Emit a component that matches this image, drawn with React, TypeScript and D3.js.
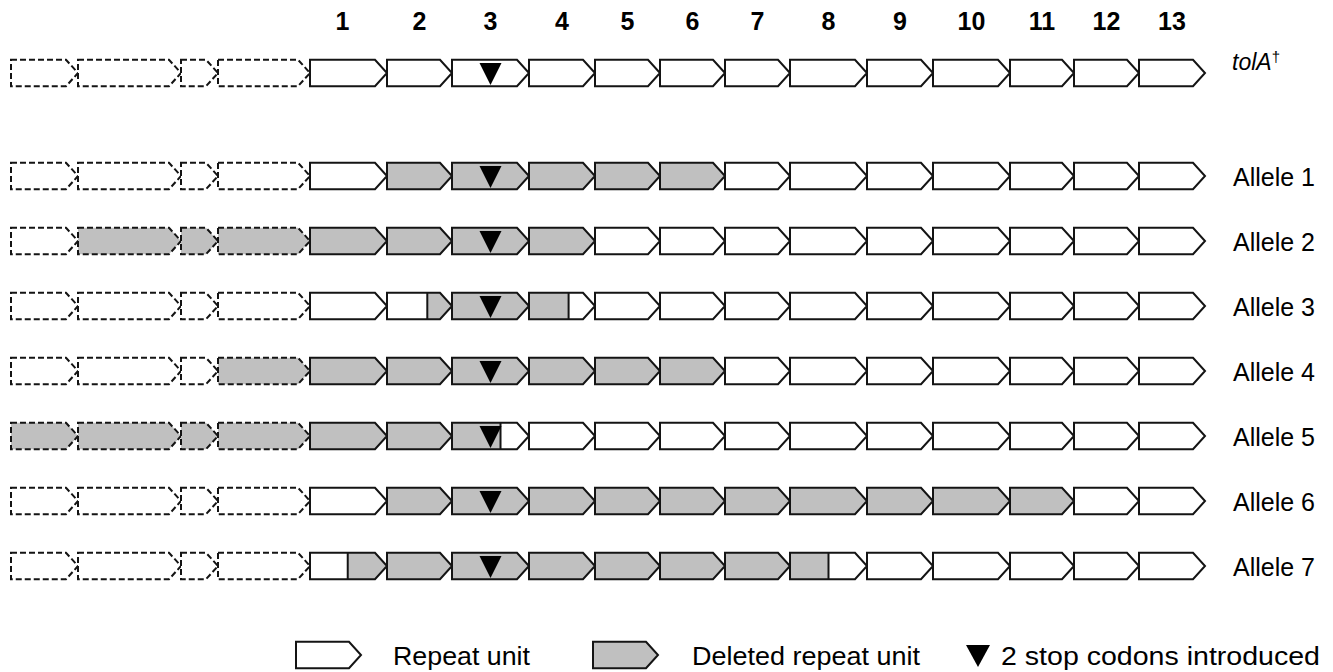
import React, { useEffect, useRef } from "react";
import { select, scaleLinear, scalePoint, sum } from "d3";

// repeat units left to right: 4 dashed upstream units, then numbered repeats 1-13
const unitLabels = ["", "", "", "", "1", "2", "3", "4", "5", "6", "7", "8", "9", "10", "11", "12", "13"];
const unitDashed = [true, true, true, true, false, false, false, false, false, false, false, false, false, false, false, false, false];
const unitLengths = [67, 103, 37, 92, 77, 65, 77, 66, 65, 65, 65, 77, 66, 77, 64, 65, 66];

const rowLabels = ["tolA", "Allele 1", "Allele 2", "Allele 3", "Allele 4", "Allele 5", "Allele 6", "Allele 7"];
// deleted stretch per row, in unit-index coordinates (unit k spans k..k+1)
const deletionStart = [null, 5, 1, 5.62, 3, 0, 5, 4.49];
const deletionEnd = [null, 10, 8, 7.6, 10, 6.63, 15, 11.5];
// stop codons sit in the middle of repeat 3
const stopCodonPos = 6.5;

const legendLabels = ["Repeat unit", "Deleted repeat unit", "2 stop codons introduced"];

const FONT = "'Liberation Sans', Arial, Helvetica, sans-serif";
const GREY = "#c0c0c0";
const INK = "#141414";

function App() {
  const svgRef = useRef();

  useEffect(() => {
    const svg = select(svgRef.current);
    svg.selectAll("*").remove();

    const h = 26.5;
    const tip = 12;

    const total = sum(unitLengths);
    const xScale = scaleLinear().domain([0, total]).range([11, 1205]);
    const starts = unitLengths.map((_, i) => sum(unitLengths.slice(0, i)));
    const ux0 = (k) => xScale(starts[k]);
    const ux1 = (k) => xScale(starts[k] + unitLengths[k]);
    const posX = (p) => {
      const k = Math.min(Math.floor(p), unitLengths.length - 1);
      return xScale(starts[k] + (p - k) * unitLengths[k]);
    };

    const alleleY = scalePoint().domain(rowLabels.slice(1)).range([176, 566]);
    const rowY = (i) => (i === 0 ? 73 : alleleY(rowLabels[i]));

    const halfH = (x, x1) => {
      const xt = x1 - tip;
      return x <= xt ? h / 2 : ((h / 2) * (x1 - x)) / tip;
    };
    // arrow polygon clipped to the strip [a, b]
    const slice = (x1, a, b, c) => {
      const xt = x1 - tip;
      const pts = [[a, c - halfH(a, x1)]];
      if (a < xt && b > xt) pts.push([xt, c - h / 2]);
      pts.push([b, c - halfH(b, x1)]);
      pts.push([b, c + halfH(b, x1)]);
      if (a < xt && b > xt) pts.push([xt, c + h / 2]);
      pts.push([a, c + halfH(a, x1)]);
      return pts.map((p) => p.join(",")).join(" ");
    };
    const triangle = (cx, c, w = 11) =>
      `${cx - w},${c - 10} ${cx + w},${c - 10} ${cx},${c + 12}`;

    // repeat numbers along the top
    svg
      .append("g")
      .selectAll("text")
      .data(unitLabels.map((l, k) => ({ l, k })).filter((d) => d.l))
      .join("text")
      .attr("x", (d) => (d.k === 4 ? (ux0(d.k) + ux1(d.k) - tip) / 2 : (ux0(d.k) + ux1(d.k)) / 2))
      .attr("y", 30)
      .attr("text-anchor", "middle")
      .attr("font-family", FONT)
      .attr("font-weight", "bold")
      .attr("font-size", 25)
      .attr("fill", "#000")
      .text((d) => d.l);

    rowLabels.forEach((label, i) => {
      const c = rowY(i);
      const g = svg.append("g").attr("class", "row");
      const ds = deletionStart[i];
      const de = deletionEnd[i];

      unitLengths.forEach((_, k) => {
        const x0 = ux0(k);
        const x1 = ux1(k);
        g.append("polygon").attr("points", slice(x1, x0, x1, c)).attr("fill", "#fff");
        if (ds !== null && de > k && ds < k + 1) {
          const a = posX(Math.max(ds, k));
          const b = de >= k + 1 ? x1 : posX(de);
          g.append("polygon").attr("points", slice(x1, a, b, c)).attr("fill", GREY);
          [ds, de].forEach((p) => {
            if (p > k && p < k + 1) {
              const sx = posX(p);
              g.append("line")
                .attr("x1", sx)
                .attr("x2", sx)
                .attr("y1", c - halfH(sx, x1))
                .attr("y2", c + halfH(sx, x1))
                .attr("stroke", INK)
                .attr("stroke-width", 2);
            }
          });
        }
        g.append("polygon")
          .attr("points", slice(x1, x0, x1, c))
          .attr("fill", "none")
          .attr("stroke", INK)
          .attr("stroke-width", 2)
          .attr("stroke-linejoin", "miter")
          .attr("stroke-dasharray", unitDashed[k] ? "6,3" : null);
      });

      g.append("polygon").attr("points", triangle(posX(stopCodonPos), c)).attr("fill", "#000");

      if (i === 0) {
        const t = g
          .append("text")
          .attr("x", 1232)
          .attr("y", c - 3)
          .attr("font-family", FONT)
          .attr("font-size", 23)
          .attr("fill", "#000");
        t.append("tspan").attr("font-style", "italic").text("tolA");
        t.append("tspan").attr("font-size", 15).attr("dy", -8).text("\u2020");
      } else {
        g.append("text")
          .attr("x", 1233)
          .attr("y", c + 9.5)
          .attr("font-family", FONT)
          .attr("font-size", 25)
          .attr("fill", "#000")
          .text(label);
      }
    });

    // legend
    const ly = 655;
    const legend = svg.append("g").attr("class", "legend");
    const legendX = [296, 593, 966];
    const legendW = 65;
    const textX = [393, 692, 1001];
    const textW = [137, 228, 319];
    [0, 1].forEach((j) => {
      const x0 = legendX[j];
      legend
        .append("polygon")
        .attr("points", slice(x0 + legendW, x0, x0 + legendW, ly))
        .attr("fill", j === 0 ? "#fff" : GREY)
        .attr("stroke", INK)
        .attr("stroke-width", 2);
    });
    legend.append("polygon").attr("points", triangle(legendX[2] + 12, ly, 12)).attr("fill", "#000");
    legend
      .selectAll("text")
      .data(legendLabels)
      .join("text")
      .attr("x", (d, j) => textX[j])
      .attr("y", ly + 9.5)
      .attr("font-family", FONT)
      .attr("font-size", 25)
      .attr("textLength", (d, j) => textW[j])
      .attr("lengthAdjust", "spacingAndGlyphs")
      .attr("fill", "#000")
      .text((d) => d);
  }, []);

  return (
    <svg
      ref={svgRef}
      width={1333}
      height={672}
      style={{ position: "absolute", left: 0, top: 0, background: "#fff" }}
    ></svg>
  );
}

export default App;
